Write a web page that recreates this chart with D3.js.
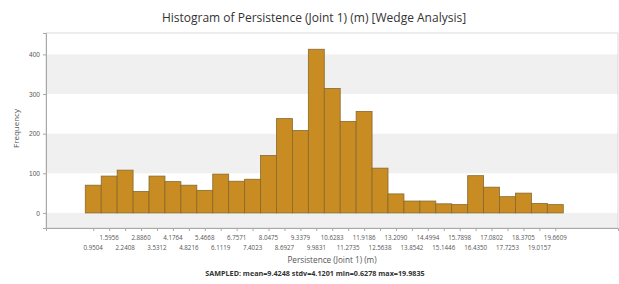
<!DOCTYPE html>
<html>
<head>
<meta charset="utf-8">
<script src="https://cdn.jsdelivr.net/npm/d3@7"></script>
<style>
  body { margin: 0; background: #fff; }
  svg { display: block; font-family: "Open Sans", "Noto Sans", sans-serif; }
</style>
</head>
<body>
<div id="chart"></div>
<script>
// bin centre labels (m)
const binLabels = ["0.9504","1.5956","2.2408","2.8860","3.5312","4.1764","4.8216","5.4668","6.1119","6.7571",
  "7.4023","8.0475","8.6927","9.3379","9.9831","10.6283","11.2735","11.9186","12.5638","13.2090",
  "13.8542","14.4994","15.1446","15.7898","16.4350","17.0802","17.7253","18.3705","19.0157","19.6609"];
// frequency per bin
const counts = [70, 93, 108, 54, 93, 79, 70, 57, 98, 80,
  85, 145, 238, 208, 413, 314, 231, 256, 113, 48,
  30, 30, 23, 21, 94, 65, 41, 50, 24, 21];
const yTicks = [0, 100, 200, 300, 400];
const stats = { mean: "9.4248", stdv: "4.1201", min: "0.6278", max: "19.9835" };

const W = 619, H = 284;
const margin = { top: 33, right: 1, bottom: 56, left: 46 };
const width = W - margin.left - margin.right;
const height = H - margin.top - margin.bottom;

const svg = d3.select("#chart").append("svg")
  .attr("width", W).attr("height", H);

const binW = (+stats.max - +stats.min) / counts.length;
const data = binLabels.map((l, i) => ({ label: l, centre: +l, count: counts[i] }));

const x = d3.scaleLinear().domain([-0.963, 22.2]).range([0, width]);
const y = d3.scaleLinear().domain([-38, 454]).range([height, 0]);

const g = svg.append("g").attr("transform", `translate(${margin.left},${margin.top})`);

// alternating background bands
const bands = [[-100, 0], [100, 200], [300, 400]];
g.selectAll("rect.band").data(bands).enter().append("rect")
  .attr("class", "band")
  .attr("x", 0).attr("width", width)
  .attr("y", d => Math.max(0, y(d[1])))
  .attr("height", d => Math.min(height, y(d[0])) - Math.max(0, y(d[1])))
  .attr("fill", "#f0f0f0");

// plot frame (top/right light)
g.append("rect")
  .attr("x", 0).attr("y", 0).attr("width", width).attr("height", height)
  .attr("fill", "none").attr("stroke", "#d9d9d9").attr("stroke-width", 1);

// bars
g.selectAll("rect.bar").data(data).enter().append("rect")
  .attr("class", "bar")
  .attr("x", d => x(d.centre - binW / 2))
  .attr("width", d => x(d.centre + binW / 2) - x(d.centre - binW / 2))
  .attr("y", d => y(d.count))
  .attr("height", d => y(0) - y(d.count))
  .attr("fill", "#c98c22")
  .attr("stroke", "#85692f")
  .attr("stroke-width", 0.8);

// y axis
const yAxis = g.append("g")
  .call(d3.axisLeft(y).tickValues(yTicks).tickSize(3).tickPadding(3));
yAxis.select(".domain").attr("stroke", "#a8a8a8");
yAxis.selectAll("line").attr("stroke", "#a8a8a8");
yAxis.selectAll("text").attr("fill", "#555").attr("font-size", "6.6px");

// x axis
const xAxis = g.append("g")
  .attr("transform", `translate(0,${height})`)
  .call(d3.axisBottom(x).tickValues(data.map(d => d.centre)).tickSize(3).tickFormat(""));
xAxis.select(".domain").attr("stroke", "#a8a8a8");
xAxis.selectAll("line").attr("stroke", "#a8a8a8");

// staggered tick labels
g.selectAll("text.xlab").data(data).enter().append("text")
  .attr("class", "xlab")
  .attr("x", d => x(d.centre))
  .attr("y", (d, i) => height + (i % 2 ? 12 : 21.5))
  .attr("text-anchor", "middle")
  .attr("fill", "#555")
  .attr("font-size", "6.2px")
  .text(d => d.label);

// titles
svg.append("text")
  .attr("x", 314).attr("y", 22)
  .attr("text-anchor", "middle")
  .attr("fill", "#333")
  .attr("font-size", "12px")
  .text("Histogram of Persistence (Joint 1) (m) [Wedge Analysis]");

svg.append("text")
  .attr("transform", `translate(19,${margin.top + height / 2 - 2}) rotate(-90)`)
  .attr("text-anchor", "middle")
  .attr("fill", "#555")
  .attr("font-size", "8px")
  .text("Frequency");

svg.append("text")
  .attr("x", 332).attr("y", 263)
  .attr("text-anchor", "middle")
  .attr("fill", "#555")
  .attr("font-size", "8.2px")
  .text("Persistence (Joint 1) (m)");

svg.append("text")
  .attr("x", 315).attr("y", 276)
  .attr("text-anchor", "middle")
  .attr("fill", "#333")
  .attr("font-weight", "bold")
  .attr("font-size", "7.2px")
  .text(`SAMPLED: mean=${stats.mean} stdv=${stats.stdv} min=${stats.min} max=${stats.max}`);
</script>
</body>
</html>
